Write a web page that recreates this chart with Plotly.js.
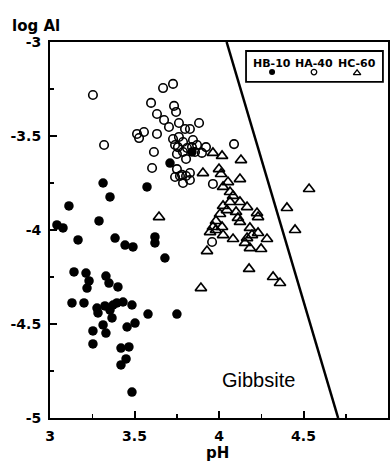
<!DOCTYPE html>
<html>
<head>
<meta charset="utf-8">
<script src="https://cdn.plot.ly/plotly-3.0.1.min.js"></script>
<style>html,body{margin:0;padding:0;background:#fff;}#chart{width:392px;height:466px;}</style>
</head>
<body>
<div id="chart"></div>
<script>
// HB-10 (filled circles): pH, log Al
const hbPH = [3.710,3.314,3.355,3.112,3.574,3.041,3.077,3.290,3.166,3.385,3.444,3.491,3.621,3.621,3.680,3.142,3.213,3.231,3.219,3.331,3.349,3.402,3.130,3.201,3.278,3.284,3.325,3.355,3.373,3.396,3.432,3.485,3.367,3.314,3.331,3.254,3.254,3.456,3.503,3.580,3.751,3.420,3.467,3.450,3.420,3.485,3.840];
const hbAl = [-3.644,-3.750,-3.824,-3.872,-3.771,-3.973,-3.989,-3.952,-4.053,-4.043,-4.080,-4.090,-4.037,-4.069,-4.149,-4.223,-4.229,-4.271,-4.309,-4.245,-4.282,-4.303,-4.388,-4.388,-4.415,-4.441,-4.404,-4.426,-4.399,-4.388,-4.383,-4.399,-4.468,-4.505,-4.548,-4.537,-4.606,-4.516,-4.495,-4.447,-4.447,-4.628,-4.622,-4.686,-4.718,-4.862,-3.585];
// HA-40 (open circles)
const haPH = [3.254,3.320,3.669,3.728,3.598,3.633,3.734,3.746,3.675,3.704,3.515,3.527,3.556,3.633,3.615,3.763,3.799,3.828,3.882,3.728,3.763,3.787,3.846,3.757,3.811,3.870,3.923,3.751,3.805,3.604,3.751,3.769,3.805,3.828,3.964,3.858,3.899,4.089,3.740,3.787,3.840,3.781,3.740,3.828,3.787,3.959];
const haAl = [-3.282,-3.548,-3.245,-3.223,-3.324,-3.383,-3.340,-3.372,-3.415,-3.452,-3.489,-3.511,-3.479,-3.489,-3.585,-3.431,-3.463,-3.463,-3.431,-3.516,-3.505,-3.532,-3.521,-3.559,-3.564,-3.548,-3.559,-3.596,-3.622,-3.670,-3.676,-3.713,-3.713,-3.734,-3.755,-3.585,-3.590,-3.543,-3.548,-3.585,-3.559,-3.707,-3.718,-3.697,-3.750,-4.064];
// HC-60 (open triangles)
const hcPH = [3.645,3.964,4.018,4.130,3.905,4.000,4.012,4.124,4.053,4.024,4.065,4.083,4.065,4.124,4.024,4.166,4.047,4.006,4.225,4.231,4.112,4.124,3.982,4.018,4.183,4.231,3.947,3.982,4.024,4.083,4.166,4.195,4.284,4.183,4.249,3.929,4.178,4.320,4.361,3.893,4.402,4.533,4.450,3.964,4.101,4.154];
const hcAl = [-3.931,-3.590,-3.606,-3.628,-3.697,-3.676,-3.702,-3.729,-3.745,-3.771,-3.798,-3.819,-3.851,-3.851,-3.872,-3.878,-3.894,-3.915,-3.910,-3.931,-3.936,-3.957,-3.952,-3.984,-3.989,-4.016,-4.011,-4.000,-4.027,-4.048,-4.043,-4.027,-4.048,-4.096,-4.101,-4.112,-4.207,-4.250,-4.282,-4.309,-3.883,-3.782,-4.000,-3.984,-3.904,-4.069];
// Gibbsite equilibrium line
const gibbsitePH = [4.045, 4.705];
const gibbsiteAl = [-3.0, -5.0];
// Legend labels and key symbol anchors
const seriesNames = ['HB-10', 'HA-40', 'HC-60'];
const legendPH = [4.314, 4.562, 4.817];
const legendAl = [-3.160, -3.160, -3.165];
const legendTextAl = -3.112;
const xTicks = [3, 3.5, 4, 4.5, 5];
const xTickText = ['3', '3.5', '4', '4.5', '5'];
const yTicks = [-3, -3.5, -4, -4.5, -5];
const yTickText = ['-3', '-3.5', '-4', '-4.5', '-5'];

const boldFont = 'DejaVu Sans, sans-serif';
const traces = [
  {x: gibbsitePH, y: gibbsiteAl, mode: 'lines', line: {color: '#000', width: 2.5}, showlegend: false, hoverinfo: 'skip'},
  {x: hbPH, y: hbAl, mode: 'markers', marker: {symbol: 'circle', size: 9.5, color: '#000'}, showlegend: false},
  {x: haPH, y: haAl, mode: 'markers', marker: {symbol: 'circle-open', size: 8.5, color: '#000', line: {width: 1.6, color: '#000'}}, showlegend: false},
  {x: hcPH, y: hcAl, mode: 'markers', marker: {symbol: 'triangle-up-open', size: 10, color: '#000', line: {width: 1.7, color: '#000'}}, showlegend: false},
  {x: [legendPH[0]], y: [legendAl[0]], mode: 'markers', marker: {symbol: 'circle', size: 6, color: '#000'}, showlegend: false},
  {x: [legendPH[1]], y: [legendAl[1]], mode: 'markers', marker: {symbol: 'circle-open', size: 5.5, color: '#000', line: {width: 1.3, color: '#000'}}, showlegend: false},
  {x: [legendPH[2]], y: [legendAl[2]], mode: 'markers', marker: {symbol: 'triangle-up-open', size: 6.5, color: '#000', line: {width: 1.3, color: '#000'}}, showlegend: false}
];

const annotations = seriesNames.map((n, i) => ({
  x: legendPH[i], y: legendTextAl, xref: 'x', yref: 'y', text: '<b>' + n + '</b>', showarrow: false,
  font: {family: boldFont, size: 11, color: '#000'}, xanchor: 'center', yanchor: 'middle'
}));
annotations.push({x: 4.006, y: -4.80, xref: 'x', yref: 'y', text: 'Gibbsite', showarrow: false,
  font: {family: 'Liberation Sans, Arial, sans-serif', size: 20, color: '#000'}, xanchor: 'left', yanchor: 'middle'});
annotations.push({x: -40/338, y: 1 + 16/376, xref: 'paper', yref: 'paper', text: '<b>log Al</b>', showarrow: false,
  font: {family: boldFont, size: 15, color: '#000'}, xanchor: 'left', yanchor: 'middle'});
annotations.push({x: 167/338, y: -35/376, xref: 'paper', yref: 'paper', text: '<b>pH</b>', showarrow: false,
  font: {family: boldFont, size: 15, color: '#000'}, xanchor: 'center', yanchor: 'middle'});

const bold = arr => arr.map(t => '<b>' + t + '</b>');
const layout = {
  width: 392, height: 466,
  margin: {l: 50, r: 4, t: 42, b: 48, pad: 0},
  paper_bgcolor: '#fff', plot_bgcolor: '#fff',
  showlegend: false,
  xaxis: {
    range: [3, 5], tickmode: 'array', tickvals: xTicks, ticktext: bold(xTickText),
    ticks: 'inside', ticklen: 7, tickwidth: 2, tickcolor: '#000',
    minor: {tickmode: 'array', tickvals: [3.25, 3.75, 4.25, 4.75], ticks: 'inside', ticklen: 4, tickwidth: 1.5, tickcolor: '#000'},
    showline: true, linecolor: '#000', linewidth: 2, mirror: true,
    showgrid: false, zeroline: false,
    tickfont: {family: boldFont, size: 14, color: '#000'},
    ticklabelstandoff: 4
  },
  yaxis: {
    range: [-5, -3], tickmode: 'array', tickvals: yTicks, ticktext: bold(yTickText),
    ticks: 'inside', ticklen: 7, tickwidth: 2, tickcolor: '#000',
    minor: {tickmode: 'array', tickvals: [-3.25, -3.75, -4.25, -4.75], ticks: 'inside', ticklen: 4, tickwidth: 1.5, tickcolor: '#000'},
    showline: true, linecolor: '#000', linewidth: 2, mirror: true,
    showgrid: false, zeroline: false,
    tickfont: {family: boldFont, size: 14, color: '#000'},
    ticklabelstandoff: 4
  },
  shapes: [
    {type: 'rect', xref: 'paper', yref: 'paper', x0: 0.580, x1: 0.985, y0: 0.894, y1: 0.976, line: {color: '#000', width: 1.8}, fillcolor: 'rgba(0,0,0,0)'}
  ],
  annotations: annotations
};

Plotly.newPlot('chart', traces, layout, {staticPlot: true, displayModeBar: false});
</script>
</body>
</html>
